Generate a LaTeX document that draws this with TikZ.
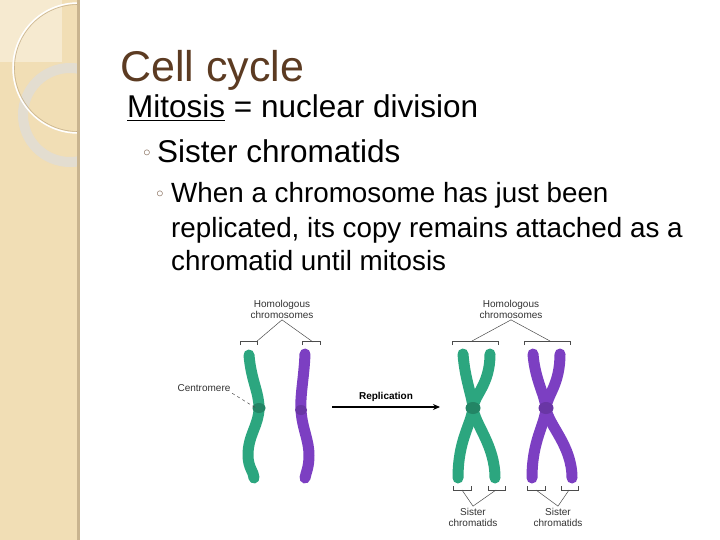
\documentclass[tikz,border=0pt]{standalone}
\usepackage{fontspec}
\setmainfont{Liberation Sans}
\usetikzlibrary{arrows.meta}
\definecolor{strip}{HTML}{F1DEB5}
\definecolor{stripedge}{HTML}{C9B48F}
\definecolor{lightsq}{HTML}{F6EAD0}
\definecolor{ringc}{HTML}{E3DDD0}
\definecolor{titlec}{HTML}{5C3B22}
\definecolor{grn}{HTML}{2CA67F}
\definecolor{pur}{HTML}{7C3FC2}
\tikzset{
  greenchr/.style={draw=grn,line width=11pt,line cap=round,line join=round},
  purchr/.style={draw=pur,line width=11pt,line cap=round,line join=round},
  thin/.style={draw=black!70,line width=0.5pt},
  small/.style={font=\fontsize{10}{11}\selectfont,align=center,text=black!80,inner sep=1.5pt},
  subline/.style={anchor=base west,font=\fontsize{27.8}{30}\selectfont,inner sep=0pt}
}
\begin{document}
\begin{tikzpicture}[x=1pt,y=-1pt]
\useasboundingbox (0,0) rectangle (720,540);
\fill[white] (0,0) rectangle (720,540);
% left strip
\fill[strip] (0,0) rectangle (78,540);
\fill[lightsq] (0,0) rectangle (62,62);
\begin{scope}
\clip (0,0) rectangle (78,540);
\draw[ringc,line width=10pt] (70,115) circle (47);
\draw[white,line width=1.5pt] (78,68) circle (65);
\draw[stripedge,line width=0.6pt] (78,68) circle (63.5);
\end{scope}
\fill[stripedge] (77,0) rectangle (80,540);
% texts
\node[anchor=base west,text=titlec,font=\fontsize{43}{45}\selectfont,inner sep=0pt] (title) at (120,82) {Cell cycle};
\node[anchor=base west,font=\fontsize{31.5}{33}\selectfont,inner sep=0pt] (mit) at (127,118) {\underline{Mitosis} = nuclear division};
\node[anchor=base west,font=\fontsize{31.5}{33}\selectfont,inner sep=0pt] (sis) at (157,163) {Sister chromatids};
\node[anchor=center,font=\fontsize{14}{14}\selectfont,inner sep=0pt,text=titlec!80] (b1) at (147,153) {$\circ$};
\node[anchor=center,font=\fontsize{14}{14}\selectfont,inner sep=0pt,text=titlec!80] (b2) at (160,194) {$\circ$};
\node[subline] (s1) at (171,203) {When a chromosome has just been};
\node[subline] (s2) at (171,237) {replicated, its copy remains attached as a};
\node[subline] (s3) at (171,270) {chromatid until mitosis};
% left chromosomes
\draw[greenchr] (249,355) .. controls (251,380) and (259,392) .. (259,408) .. controls (259,425) and (248,435) .. (248,455) .. controls (248,468) and (254,472) .. (254,478);
\draw[purchr] (305,354) .. controls (304,378) and (300,395) .. (301,410) .. controls (302,428) and (309,440) .. (309,455) .. controls (309,468) and (306,472) .. (305,478);
\fill[grn!80!black] (259,408) ellipse (6.5 and 5);
\fill[pur!85!black] (301,410) ellipse (6 and 5);
\node[small] (hom1) at (282,309) {Homologous\\chromosomes};
\coordinate (b1l) at (256,342); \coordinate (b1r) at (313,342);
\draw[thin] (240,345) -- (240,341) -- (257,341) -- (257,345);
\draw[thin] (302,345) -- (302,341) -- (320,341) -- (320,345);
\draw[thin] (hom1.south) -- (b1l);
\draw[thin] (hom1.south) -- (b1r);
\node[small] (cen) at (204,388) {Centromere};
\coordinate (cenpt) at (256,408);
\draw[thin,dashed] (cen.south east) -- (cenpt);
% arrow
\coordinate (a1) at (332,407); \coordinate (a2) at (440,407);
\draw[line width=1.6pt,-{Stealth[length=7pt,width=6pt]}] (a1) -- (a2);
\node[font=\bfseries\fontsize{10}{11}\selectfont,inner sep=0pt] (rep) at (386,397) {Replication};
% right chromosomes
\draw[greenchr] (463,354) .. controls (465,380) and (472,395) .. (473,408) .. controls (475,425) and (495,445) .. (495,478);
\draw[greenchr] (490,354) .. controls (490,385) and (474,395) .. (473,408) .. controls (471,425) and (458,440) .. (458,478);
\fill[grn!80!black] (473,408) ellipse (7.5 and 6);
\draw[purchr] (533,354) .. controls (535,380) and (545,395) .. (546,408) .. controls (548,425) and (572,445) .. (572,478);
\draw[purchr] (560,354) .. controls (560,385) and (547,395) .. (546,408) .. controls (545,425) and (532,440) .. (532,478);
\fill[pur!85!black] (546,408) ellipse (7.5 and 6);
\node[small] (hom2) at (511,309) {Homologous\\chromosomes};
\coordinate (b2l) at (472,341); \coordinate (b2r) at (550,341);
\draw[thin] (452,345) -- (452,341) -- (498,341) -- (498,345);
\draw[thin] (524,345) -- (524,341) -- (570,341) -- (570,345);
\draw[thin] (hom2.south) -- (b2l);
\draw[thin] (hom2.south) -- (b2r);
% sister chromatid brackets
\draw[thin] (453,486) -- (453,490) -- (471,490) -- (471,486);
\draw[thin] (488,486) -- (488,490) -- (505,490) -- (505,486);
\draw[thin] (527,486) -- (527,490) -- (545,490) -- (545,486);
\draw[thin] (561,486) -- (561,490) -- (578,490) -- (578,486);
\node[small] (sc1) at (473,517) {Sister\\chromatids};
\node[small] (sc2) at (558,517) {Sister\\chromatids};
\coordinate (s1a) at (462,490); \coordinate (s1b) at (496,490);
\coordinate (s2a) at (536,490); \coordinate (s2b) at (569,490);
\draw[thin] (sc1.north) -- (s1a); \draw[thin] (sc1.north) -- (s1b);
\draw[thin] (sc2.north) -- (s2a); \draw[thin] (sc2.north) -- (s2b);
\end{tikzpicture}
\end{document}
